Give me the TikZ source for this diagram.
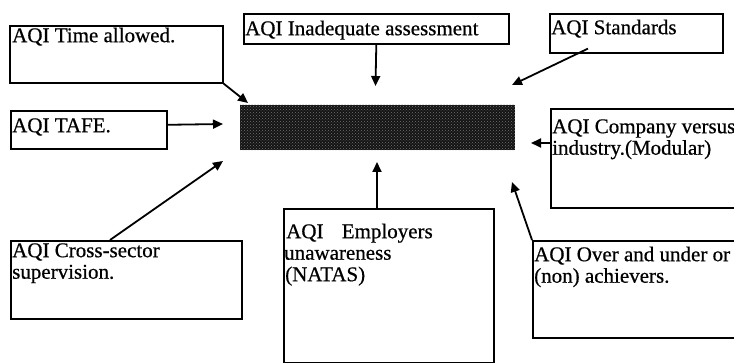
\documentclass[tikz,border=0pt]{standalone}
\usepackage{fontspec}
\setmainfont{Liberation Serif}
\newfontfamily\scanfont{Liberation Serif}[FakeBold=0.6]
\usetikzlibrary{arrows.meta,patterns}
\begin{document}
\begin{tikzpicture}[x=1pt,y=-1pt,
  box/.style={draw,line width=1.6pt,inner sep=0pt,anchor=north west},
  txt/.style={inner sep=0pt,anchor=north west,align=left,font=\scanfont\fontsize{21}{21.5}\selectfont},
  arr/.style={line width=1.8pt,-{Triangle[length=10pt,width=9pt]}}]
\clip (0,0) rectangle (734,363);
\fill[white] (0,0) rectangle (734,363);
% boxes
\node[box,minimum width=213pt,minimum height=57pt] (time) at (9,25) {};
\node[box,minimum width=265pt,minimum height=30pt] (inad) at (243,13) {};
\node[box,minimum width=173pt,minimum height=39pt] (std) at (549,13) {};
\node[box,minimum width=156pt,minimum height=38pt] (tafe) at (10,110) {};
\node[box,minimum width=200pt,minimum height=99pt] (comp) at (550,108) {};
\node[box,minimum width=231pt,minimum height=78pt] (cross) at (10,240) {};
\node[box,minimum width=210pt,minimum height=154pt] (emp) at (283,208) {};
\node[box,minimum width=210pt,minimum height=97pt] (over) at (532,240) {};
% central box
\node[anchor=north west,inner sep=0pt,minimum width=275pt,minimum height=45pt,fill=black!92] (center) at (240,105) {};
\fill[pattern=crosshatch dots,pattern color=black!55] (center.north west) rectangle (center.south east);
% texts
\node[txt] (timet) at (12,26) {\rule{0pt}{16pt}AQI Time allowed.};
\node[txt] (inadt) at (245,19) {\rule{0pt}{16pt}AQI Inadequate assessment};
\node[txt] (stdt) at (551,18) {\rule{0pt}{16pt}AQI Standards};
\node[txt] (tafet) at (12,116) {\rule{0pt}{16pt}AQI TAFE.};
\node[txt] (compt) at (552,117) {\rule{0pt}{16pt}AQI Company versus\\industry.(Modular)};
\node[txt] (crosst) at (12,241) {\rule{0pt}{16pt}AQI Cross-sector\\supervision.};
\node[txt] (empt) at (284,222) {\rule{0pt}{16pt}\hspace{2pt}AQI\hspace{13pt} Employers\\unawareness\\\hspace{1pt}(NATAS)};
\node[txt] (overt) at (534,245) {\rule{0pt}{16pt}AQI Over and under or\\(non) achievers.};
% arrow tips
\coordinate (t1) at (248,103);
\coordinate (t2) at (375.5,86);
\coordinate (t3) at (512,85);
\coordinate (t4) at (223,124);
\coordinate (t5) at (531,143);
\coordinate (t6) at (223,161);
\coordinate (t7) at (377,162);
\coordinate (t8) at (512,182);
% connectors
\draw[arr] (time.south east) -- (t1);
\draw[arr] (inad.south) -- (t2);
\draw[arr] ([shift={(39,-5)}]std.south west) -- (t3);
\draw[arr] ([shift={(0,-5)}]tafe.east) -- (t4);
\draw[arr] ([shift={(0,35)}]comp.north west) -- (t5);
\draw[arr] ([shift={(100,0)}]cross.north west) -- (t6);
\draw[arr] ([shift={(94,0)}]emp.north west) -- (t7);
\draw[arr] (over.north west) -- (t8);
\end{tikzpicture}
\end{document}
